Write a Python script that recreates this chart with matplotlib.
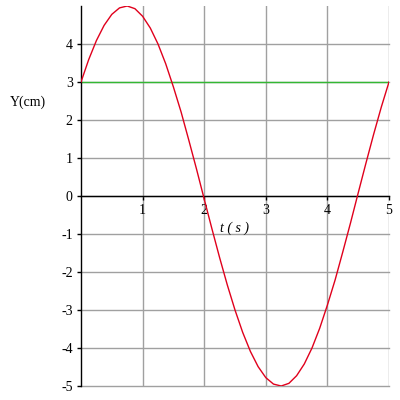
import matplotlib
matplotlib.use('Agg')
import matplotlib.pyplot as plt

# Valores
tempo = [0, 0.125, 0.25, 0.375, 0.5, 0.625, 0.75, 0.875, 1.0, 1.125, 1.25, 1.375,
         1.5, 1.625, 1.75, 1.875, 2.0, 2.125, 2.25, 2.375, 2.5, 2.625, 2.75, 2.875,
         3.0, 3.125, 3.25, 3.375, 3.5, 3.625, 3.75, 3.875, 4.0, 4.125, 4.25, 4.375,
         4.5, 4.625, 4.75, 4.875, 5.0]
posicao = [3.00, 3.59, 4.09, 4.49, 4.78, 4.95, 5.00, 4.93, 4.73, 4.42, 4.00, 3.48,
           2.87, 2.21, 1.47, 0.71, -0.08, -0.86, -1.62, -2.34, -3.00, -3.59, -4.09, -4.49,
           -4.78, -4.95, -5.00, -4.93, -4.73, -4.42, -4.00, -3.48, -2.87, -2.21, -1.47, -0.71,
           0.08, 0.86, 1.62, 2.34, 3.00]
nivel = 3
xticks = [1, 2, 3, 4, 5]
yticks = [-5, -4, -3, -2, -1, 0, 1, 2, 3, 4]

plt.rcParams['font.family'] = ['Liberation Serif', 'DejaVu Serif']
plt.rcParams['axes.unicode_minus'] = False

fig = plt.figure(figsize=(4, 4), dpi=100)
ax = fig.add_axes([81 / 400, 1 - 386 / 400, 308 / 400, 380 / 400])

ax.plot(tempo, posicao, color='#e0001c', linewidth=1, zorder=3)
ax.axhline(nivel, color='#33b833', linewidth=1, zorder=2)

ax.set_xlim(0, 5)
ax.set_ylim(-5, 5)
ax.set_xticks(xticks)
ax.set_yticks(yticks)
ax.grid(True, color='#a0a0a0', linewidth=1)
ax.set_axisbelow(True)
for linha in ax.get_xgridlines() + ax.get_ygridlines():
    linha.set_clip_on(False)

ax.spines['top'].set_visible(False)
ax.spines['right'].set_visible(False)
ax.spines['bottom'].set_position(('data', 0))
ax.spines['left'].set_linewidth(1)
ax.spines['bottom'].set_linewidth(1)
ax.tick_params(axis='both', length=3, width=1, labelsize=10, pad=3)

ax.text(2.5, -0.84, 't ( s )', fontsize=10, ha='center', va='center',
        fontstyle='italic')
fig.text(28 / 400, 1 - 102 / 400, 'Y(cm)', fontsize=10, ha='center', va='center')

fig.savefig('out.png', dpi=100)
